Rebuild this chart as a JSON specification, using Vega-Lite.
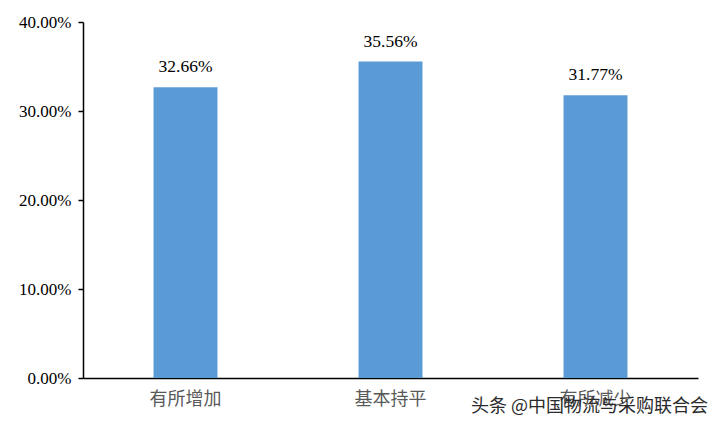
{
  "$schema": "https://vega.github.io/schema/vega-lite/v6.json",
  "width": 615,
  "height": 356,
  "autosize": {"type": "none"},
  "padding": {"left": 83, "top": 22, "right": 24, "bottom": 49},
  "background": "white",
  "title": {
    "text": "头条 @中国物流与采购联合会",
    "orient": "bottom",
    "anchor": "end",
    "frame": "group",
    "offset": -10,
    "dx": 10,
    "font": "Noto Sans CJK SC",
    "fontSize": 18,
    "fontWeight": "normal",
    "color": "#2b2b2b"
  },
  "data": {
    "values": [
      {"category": "有所增加", "value": 0.3266},
      {"category": "基本持平", "value": 0.3556},
      {"category": "有所减少", "value": 0.3177}
    ]
  },
  "encoding": {
    "x": {
      "field": "category",
      "type": "nominal",
      "sort": null,
      "scale": {"paddingInner": 0.688, "paddingOuter": 0.344},
      "axis": {
        "title": null,
        "labelAngle": 0,
        "ticks": false,
        "domainColor": "#000000",
        "domainWidth": 1.5,
        "labelFont": "Liberation Serif, Noto Sans CJK SC",
        "labelFontSize": 18,
        "labelColor": "#595959",
        "labelPadding": 12
      }
    },
    "y": {
      "field": "value",
      "type": "quantitative",
      "scale": {"domain": [0, 0.4], "nice": false},
      "axis": {
        "title": null,
        "values": [0, 0.1, 0.2, 0.3, 0.4],
        "format": ".2%",
        "grid": false,
        "domainColor": "#000000",
        "domainWidth": 1.5,
        "tickColor": "#000000",
        "tickWidth": 1.5,
        "tickSize": 5,
        "labelFont": "Liberation Serif",
        "labelFontSize": 17,
        "labelColor": "#000000",
        "labelPadding": 7
      }
    }
  },
  "layer": [
    {"mark": {"type": "bar", "color": "#5B9BD5"}},
    {
      "mark": {
        "type": "text",
        "baseline": "bottom",
        "dy": -11,
        "font": "Liberation Serif",
        "fontSize": 17.5,
        "color": "#000000"
      },
      "encoding": {
        "text": {"field": "value", "type": "quantitative", "format": ".2%"}
      }
    }
  ],
  "config": {"view": {"stroke": null}}
}
